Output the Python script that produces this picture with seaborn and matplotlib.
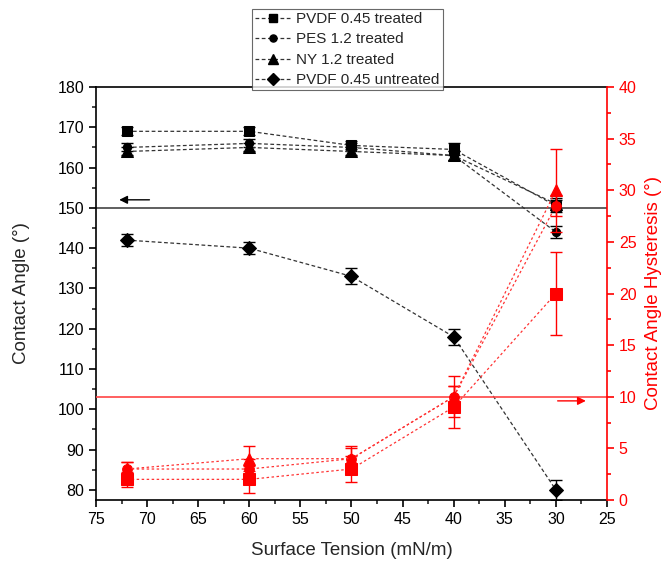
import numpy as np
import pandas as pd
import matplotlib
matplotlib.use("Agg")
import matplotlib.pyplot as plt
from matplotlib.ticker import MultipleLocator
from matplotlib.lines import Line2D
import seaborn as sns

# ---------------- data ----------------
tension = [72, 60, 50, 40, 30]
series_names = ["PVDF 0.45 treated", "PES 1.2 treated", "NY 1.2 treated", "PVDF 0.45 untreated"]

angle_pvdf_t = [169, 169, 165.5, 164.5, 150.5]
angle_pvdf_t_err = [1, 1, 1, 1.5, 1.5]
angle_pes = [165, 166, 165, 163, 144]
angle_pes_err = [1, 1, 1, 1, 1.5]
angle_ny = [164, 165, 164, 163, 151]
angle_ny_err = [1, 1, 1, 1, 1.5]
angle_pvdf_u = [142, 140, 133, 118, 80]
angle_pvdf_u_err = [1.5, 1.5, 2, 2, 2.5]

hyst_pvdf_t = [2, 2, 3, 9, 20]
hyst_pvdf_t_err = [0.7, 1.3, 1.3, 2, 4]
hyst_pes = [3, 3, 4, 10, 28.5]
hyst_pes_err = [0.7, 1.0, 1.0, 1.0, 1.0]
hyst_ny = [3, 4, 4, 10, 30]
hyst_ny_err = [0.7, 1.2, 1.2, 2, 4]

markers = ["s", "o", "^", "D"]

# ---------------- style ----------------
sns.set_theme(style="ticks")
plt.rcParams['font.family'] = ['Liberation Sans', 'DejaVu Sans']

fig = plt.figure(figsize=(6.62, 5.62), dpi=100)
ax = fig.add_axes([96/662, 1-500/562, (607-96)/662, (500-87)/562])
ax2 = ax.twinx()

angles = [angle_pvdf_t, angle_pes, angle_ny, angle_pvdf_u]
angle_errs = [angle_pvdf_t_err, angle_pes_err, angle_ny_err, angle_pvdf_u_err]
hysts = [hyst_pvdf_t, hyst_pes, hyst_ny]
hyst_errs = [hyst_pvdf_t_err, hyst_pes_err, hyst_ny_err]

ms = {"s": 7, "o": 6, "^": 8, "D": 7}

handles = []
for name, y, e, m in zip(series_names, angles, angle_errs, markers):
    df = pd.DataFrame({"x": tension, "y": y})
    sns.lineplot(data=df, x="x", y="y", ax=ax, color="#333333", linewidth=0.9,
                 linestyle=(0, (3, 2)), marker=m, markersize=ms[m],
                 markerfacecolor="black", markeredgecolor="black", sort=False,
                 legend=False, zorder=3)
    ax.errorbar(tension, y, yerr=e, fmt="none", ecolor="black", elinewidth=1,
                capsize=4, capthick=1, zorder=3)
    handles.append(Line2D([], [], color="#333333", linewidth=0.9, linestyle=(0, (3, 2)),
                          marker=m, markersize=ms[m] * 0.85, markerfacecolor="black",
                          markeredgecolor="black", label=name))

for y, e, m in zip(hysts, hyst_errs, markers[:3]):
    df = pd.DataFrame({"x": tension, "y": y})
    sns.lineplot(data=df, x="x", y="y", ax=ax2, color="#ff3333", linewidth=0.9,
                 linestyle=(0, (2, 2)), marker=m, markersize=ms[m] + 1,
                 markerfacecolor="red", markeredgecolor="red", sort=False,
                 legend=False, zorder=3)
    ax2.errorbar(tension, y, yerr=e, fmt="none", ecolor="red", elinewidth=1,
                 capsize=4, capthick=1, zorder=3)

# reference lines and arrows
ax.axhline(150, color="#444444", linewidth=1.2, zorder=1)
ax2.axhline(10, color="#ff4444", linewidth=1.2, zorder=1)
ax.annotate("", xy=(73.0, 152), xytext=(69.5, 152),
            arrowprops=dict(arrowstyle="-|>", color="black", lw=1, mutation_scale=12))
ax2.annotate("", xy=(26.8, 9.6), xytext=(30.1, 9.6),
             arrowprops=dict(arrowstyle="-|>", color="red", lw=1, mutation_scale=12))

# axes limits / ticks
ax.set_xlim(75, 25)
ax.set_ylim(77.5, 180)
ax2.set_ylim(0, 40)
ax.xaxis.set_major_locator(MultipleLocator(5))
ax.xaxis.set_minor_locator(MultipleLocator(2.5))
ax.yaxis.set_major_locator(MultipleLocator(10))
ax.yaxis.set_minor_locator(MultipleLocator(5))
ax2.yaxis.set_major_locator(MultipleLocator(5))
ax2.yaxis.set_minor_locator(MultipleLocator(2.5))
ax.set_yticks(np.arange(80, 181, 10))

ax.tick_params(axis="both", which="major", direction="out", length=5, width=1.2,
               labelsize=11.5, colors="black")
ax.tick_params(axis="both", which="minor", direction="out", length=3, width=1.2)
ax2.tick_params(axis="y", which="major", direction="out", length=5, width=1.2,
                labelsize=11.5, colors="red")
ax2.tick_params(axis="y", which="minor", direction="out", length=3, width=1.2, colors="red")

for s in ["left", "bottom", "top"]:
    ax.spines[s].set_linewidth(1.2)
    ax.spines[s].set_color("black")
ax.spines["right"].set_visible(False)
ax2.spines["right"].set_color("red")
ax2.spines["right"].set_linewidth(1.2)
for s in ["left", "bottom", "top"]:
    ax2.spines[s].set_visible(False)

ax.set_xlabel("Surface Tension (mN/m)", fontsize=13.5, labelpad=11)
ax.set_ylabel("Contact Angle (°)", fontsize=13.5, labelpad=20)
ax2.set_ylabel("Contact Angle Hysteresis (°)", fontsize=13.5, color="red", labelpad=6)

leg = fig.legend(handles=handles, loc="upper left",
                 bbox_to_anchor=(252/662, 1-9/562), frameon=True, fancybox=False,
                 edgecolor="#444444", fontsize=11, handlelength=2.4,
                 borderpad=0.2, labelspacing=0.42, handletextpad=0.3,
                 borderaxespad=0)
leg.get_frame().set_linewidth(0.8)

fig.savefig("out.png", dpi=100)
